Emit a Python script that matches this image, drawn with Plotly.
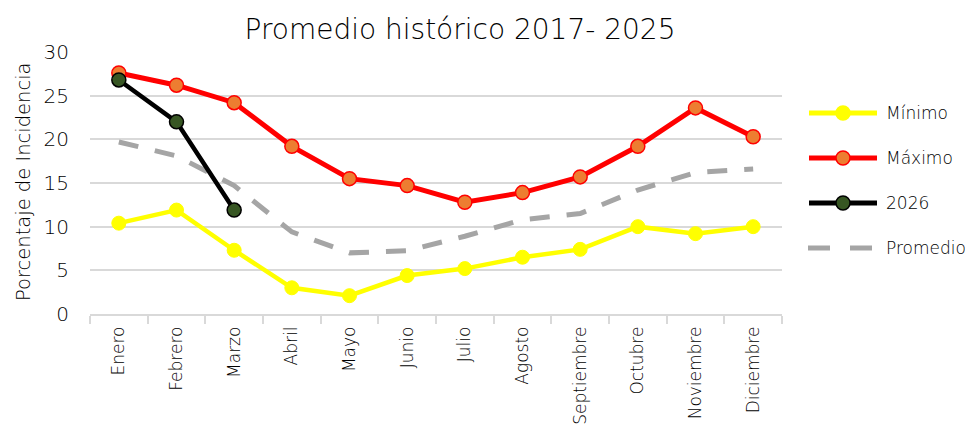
import plotly.graph_objects as go

meses = ["Enero", "Febrero", "Marzo", "Abril", "Mayo", "Junio", "Julio",
         "Agosto", "Septiembre", "Octubre", "Noviembre", "Diciembre"]
minimo = [10.4, 11.9, 7.3, 3.0, 2.1, 4.4, 5.2, 6.5, 7.4, 10.0, 9.2, 10.0]
maximo = [27.6, 26.2, 24.2, 19.2, 15.5, 14.7, 12.8, 13.9, 15.7, 19.2, 23.6, 20.3]
anio_2026 = [26.8, 22.0, 11.9]
promedio = [19.7, 18.1, 14.7, 9.4, 7.0, 7.25, 8.9, 10.8, 11.5, 14.2, 16.2, 16.6]

FONT = "DejaVu Sans"
WT = 300
TXT = "#000000"

# figure geometry (page has 8px body margin)
W, H = 973, 427
ML, MR, MT, MB = 82, 199, 44, 121
PW, PH = W - ML - MR, H - MT - MB


def px(fx):
    return (fx - ML) / PW


def py(fy):
    return (MT + PH - fy) / PH


fig = go.Figure()
fig.add_trace(go.Scatter(x=meses, y=promedio, name="Promedio", mode="lines",
                         line=dict(color="#A5A5A5", width=5, dash="20px,17px")))
fig.add_trace(go.Scatter(x=meses, y=minimo, name="Mínimo", mode="lines+markers",
                         line=dict(color="#FFFF00", width=4.5),
                         marker=dict(size=14, color="#FFFF00", line=dict(color="#FFFF00", width=1))))
fig.add_trace(go.Scatter(x=meses, y=maximo, name="Máximo", mode="lines+markers",
                         line=dict(color="#FF0000", width=5),
                         marker=dict(size=14, color="#ED7D31", line=dict(color="#FF0000", width=1.5))))
fig.add_trace(go.Scatter(x=meses[:3], y=anio_2026, name="2026", mode="lines+markers",
                         line=dict(color="#000000", width=4.5),
                         marker=dict(size=14, color="#375623", line=dict(color="#000000", width=1.5))))

# manual legend
leg_items = [
    ("Mínimo", "#FFFF00", "#FFFF00", "#FFFF00", False),
    ("Máximo", "#FF0000", "#ED7D31", "#FF0000", False),
    ("2026", "#000000", "#375623", "#000000", False),
    ("Promedio", "#A5A5A5", None, None, True),
]
shapes = []
annots = []
for i, (lab, lc, mc, mlc, dashed) in enumerate(leg_items):
    fy = 105 + 45 * i
    if dashed:
        for (a, b) in [(800, 822), (842, 864)]:
            shapes.append(dict(type="line", xref="paper", yref="paper",
                               x0=px(a), x1=px(b), y0=py(fy), y1=py(fy),
                               line=dict(color=lc, width=5)))
    else:
        shapes.append(dict(type="line", xref="paper", yref="paper",
                           x0=px(801), x1=px(869), y0=py(fy), y1=py(fy),
                           line=dict(color=lc, width=5)))
        shapes.append(dict(type="circle", xref="paper", yref="paper",
                           xsizemode="pixel", ysizemode="pixel",
                           xanchor=px(835), yanchor=py(fy),
                           x0=-7, x1=7, y0=-7, y1=7,
                           fillcolor=mc, line=dict(color=mlc, width=1.5)))
    annots.append(dict(text=lab, xref="paper", yref="paper", x=px(876), y=py(fy),
                       xanchor="left", yanchor="middle", showarrow=False,
                       font=dict(size=17, family=FONT, color=TXT, weight=WT)))

# y-axis title
annots.append(dict(text="Porcentaje de Incidencia", xref="paper", yref="paper",
                   x=px(15), y=py(174), xanchor="center", yanchor="middle",
                   textangle=-90, showarrow=False,
                   font=dict(size=19.5, family=FONT, color=TXT, weight=WT)))

fig.update_layout(
    width=W, height=H,
    margin=dict(l=ML, r=MR, t=MT, b=MB, autoexpand=False),
    paper_bgcolor="white", plot_bgcolor="white",
    font=dict(family=FONT, color=TXT, weight=WT),
    title=dict(text="Promedio histórico 2017- 2025", x=452 / W, xanchor="center",
               y=1 - 21 / H, yanchor="middle",
               font=dict(size=28, family=FONT, color=TXT, weight=WT)),
    showlegend=False,
    shapes=shapes,
    annotations=annots,
)
fig.update_xaxes(type="category", range=[-0.5, 11.5], tickangle=-90, automargin=False,
                 tickfont=dict(size=17, family=FONT, color=TXT, weight=WT), showgrid=False,
                 showline=True, linecolor="#d9d9d9", linewidth=1.5,
                 ticks="outside", tickson="boundaries", ticklen=8, tickcolor="#d9d9d9",
                 tickwidth=1.5, ticklabelstandoff=4)
fig.update_yaxes(range=[0, 30], dtick=5, showgrid=True, gridcolor="#d9d9d9", gridwidth=1.5,
                 zeroline=False, automargin=False,
                 tickfont=dict(size=20, family=FONT, color=TXT, weight=WT),
                 ticks="", showline=False, ticklabelstandoff=20)

fig.write_html("out.html")
